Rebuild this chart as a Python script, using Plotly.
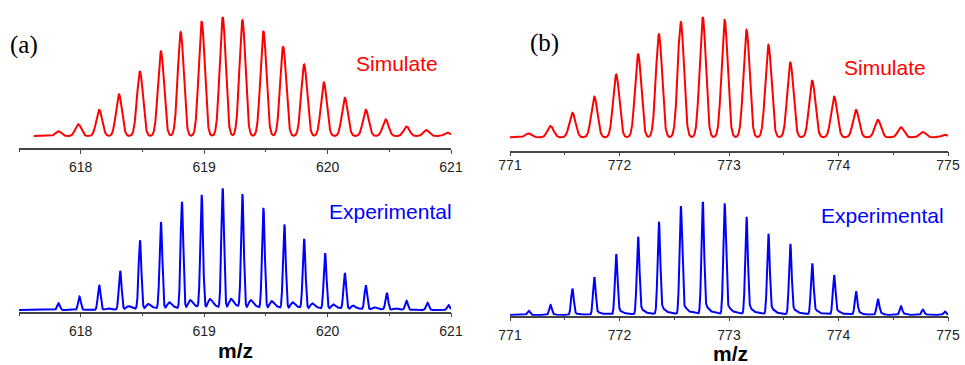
import numpy as np
import plotly.graph_objects as go

W, H = 965, 365

# ---------------- data ----------------
# (a) left panel, peak centres (m/z) and relative intensities
a_sim_mz = [617.82, 617.98, 618.15, 618.31, 618.48, 618.65, 618.81, 618.98, 619.15, 619.31,
            619.48, 619.64, 619.81, 619.97, 620.14, 620.31, 620.47, 620.64, 620.80, 620.97]
a_sim_int = [0.04, 0.10, 0.22, 0.35, 0.54, 0.71, 0.87, 0.96, 1.00, 0.97,
             0.88, 0.75, 0.60, 0.45, 0.32, 0.22, 0.14, 0.08, 0.05, 0.03]
a_exp_mz = [617.82, 617.99, 618.15, 618.32, 618.48, 618.65, 618.82, 618.98, 619.15, 619.31,
            619.48, 619.65, 619.81, 619.98, 620.14, 620.31, 620.48, 620.64, 620.81, 620.98]
a_exp_int = [0.055, 0.11, 0.205, 0.32, 0.57, 0.72, 0.885, 0.94, 1.00, 0.945,
             0.835, 0.70, 0.58, 0.465, 0.30, 0.20, 0.14, 0.075, 0.06, 0.04]
a_exp_shoulder = [0.0, 0.005, 0.01, 0.02, 0.03, 0.04, 0.05, 0.055, 0.055, 0.05,
                  0.045, 0.04, 0.035, 0.03, 0.025, 0.015, 0.01, 0.005, 0.0, 0.0]
a_exp_floor = [0.0, 0.0, 0.005, 0.015, 0.025, 0.03, 0.04, 0.045, 0.045, 0.04,
               0.035, 0.03, 0.025, 0.02, 0.015, 0.01, 0.005, 0.0, 0.0, 0.0]

# (b) right panel
b_sim_mz = [771.17, 771.37, 771.57, 771.77, 771.97, 772.17, 772.36, 772.56, 772.76, 772.96,
            773.16, 773.36, 773.56, 773.76, 773.96, 774.16, 774.36, 774.57, 774.77, 774.97]
b_sim_int = [0.033, 0.094, 0.204, 0.337, 0.52, 0.69, 0.854, 0.956, 1.00, 0.972,
             0.89, 0.765, 0.62, 0.47, 0.337, 0.227, 0.144, 0.083, 0.044, 0.022]
b_exp_mz = b_sim_mz
b_exp_int = [0.038, 0.088, 0.23, 0.33, 0.53, 0.68, 0.81, 0.947, 1.00, 0.97,
             0.853, 0.706, 0.618, 0.447, 0.344, 0.203, 0.138, 0.074, 0.047, 0.032]
b_exp_shoulder = [0.0, 0.005, 0.01, 0.02, 0.03, 0.04, 0.05, 0.06, 0.06, 0.06,
                  0.05, 0.045, 0.04, 0.035, 0.03, 0.02, 0.015, 0.01, 0.005, 0.0]
b_exp_floor = [0.0, 0.0, 0.005, 0.01, 0.015, 0.02, 0.025, 0.03, 0.03, 0.03,
               0.025, 0.02, 0.02, 0.015, 0.01, 0.005, 0.0, 0.0, 0.0, 0.0]

a_ticks = [618, 619, 620, 621]
b_ticks = [771, 772, 773, 774, 775]
a_range = [617.5, 621.0]
b_range = [771.0, 775.0]


def profile(x, centres, heights, sigma, offset=0.0):
    y = np.zeros_like(x)
    for c, h in zip(centres, heights):
        y += h * np.exp(-0.5 * ((x - c - offset) / sigma) ** 2)
    return y


xa_sim = np.linspace(617.62, 621.0, 3000)
ya_sim = profile(xa_sim, a_sim_mz, a_sim_int, 0.024)
xa_exp = np.linspace(617.5, 621.0, 4000)
ya_exp = (profile(xa_exp, a_exp_mz, a_exp_int, 0.011)
          + profile(xa_exp, a_exp_mz, a_exp_shoulder, 0.016, 0.065)
          + profile(xa_exp, a_exp_mz, a_exp_floor, 0.035, 0.09))

xb_sim = np.linspace(771.0, 775.0, 3000)
yb_sim = profile(xb_sim, b_sim_mz, b_sim_int, 0.028)
xb_exp = np.linspace(771.0, 775.0, 4000)
yb_exp = (profile(xb_exp, b_exp_mz, b_exp_int, 0.012)
          + profile(xb_exp, b_exp_mz, b_exp_shoulder, 0.02, 0.035)
          + profile(xb_exp, b_exp_mz, b_exp_floor, 0.04, 0.10))

RED = "#ff0000"
BLUE = "#0000ff"

fig = go.Figure()
fig.add_trace(go.Scatter(x=xa_sim, y=ya_sim, mode="lines", line=dict(color=RED, width=2),
                         xaxis="x", yaxis="y", hoverinfo="skip"))
fig.add_trace(go.Scatter(x=xa_exp, y=ya_exp, mode="lines", line=dict(color=BLUE, width=2),
                         xaxis="x2", yaxis="y2", hoverinfo="skip"))
fig.add_trace(go.Scatter(x=xb_sim, y=yb_sim, mode="lines", line=dict(color=RED, width=2),
                         xaxis="x3", yaxis="y3", hoverinfo="skip"))
fig.add_trace(go.Scatter(x=xb_exp, y=yb_exp, mode="lines", line=dict(color=BLUE, width=2),
                         xaxis="x4", yaxis="y4", hoverinfo="skip"))


def px_x(a, b):
    return [a / W, b / W]


def px_y(bottom, top):
    return [1 - bottom / H, 1 - top / H]


tickfont = dict(family="Arial, Liberation Sans, sans-serif", size=14, color="#222222")


def xax(domain, rng, ticks, anchor, standoff):
    return dict(domain=domain, range=rng, anchor=anchor, showline=True, linecolor="#444444",
                linewidth=1.5, ticks="outside", ticklen=4, tickwidth=1.2, tickcolor="#444444",
                tickvals=ticks, ticktext=[str(t) for t in ticks], tickfont=tickfont,
                showgrid=False, zeroline=False, ticklabelstandoff=standoff, automargin=False,
                minor=dict(dtick=0.5, ticks="outside", ticklen=2.5, tickwidth=1.2,
                           tickcolor="#444444", showgrid=False))


def yax(domain, rng, anchor):
    return dict(domain=domain, range=rng, anchor=anchor, visible=False, showgrid=False,
                zeroline=False, automargin=False)


fig.update_layout(
    width=W, height=H, margin=dict(l=0, r=0, t=0, b=0, autoexpand=False),
    paper_bgcolor="white", plot_bgcolor="white", showlegend=False,
    xaxis=xax(px_x(19, 451), a_range, a_ticks, "y", 1),
    yaxis=yax(px_y(148, 16.7), [-0.10, 1.0], "x"),
    xaxis2=xax(px_x(19, 451), a_range, a_ticks, "y2", 2),
    yaxis2=yax(px_y(311.7, 188.3), [-0.014, 1.0], "x2"),
    xaxis3=xax(px_x(510, 948), b_range, b_ticks, "y3", -3),
    yaxis3=yax(px_y(150.7, 16.7), [-0.111, 1.0], "x3"),
    xaxis4=xax(px_x(510, 948), b_range, b_ticks, "y4", 2),
    yaxis4=yax(px_y(315.7, 201.7), [-0.006, 1.0], "x4"),
)

sans = "Arial, Liberation Sans, sans-serif"
serif = "Times New Roman, Liberation Serif, serif"


def ann(text, x, y, size, color, family, bold=False):
    fig.add_annotation(text=("<b>%s</b>" % text) if bold else text,
                       x=x / W, y=1 - y / H, xref="paper", yref="paper",
                       xanchor="center", yanchor="middle", showarrow=False, borderpad=0,
                       font=dict(size=size, color=color, family=family))


ann("(a)", 24, 45, 25, "#000000", serif)
ann("(b)", 544, 43, 25, "#000000", serif)
ann("Simulate", 396.5, 64, 21, RED, sans)
ann("Simulate", 885, 67, 21, RED, sans)
ann("Experimental", 390, 212, 21, BLUE, sans)
ann("Experimental", 882, 215, 21, BLUE, sans)
ann("m/z", 235.5, 350, 21, "#000000", sans, bold=True)
ann("m/z", 730, 353, 21, "#000000", sans, bold=True)

fig.write_html("out.html")
